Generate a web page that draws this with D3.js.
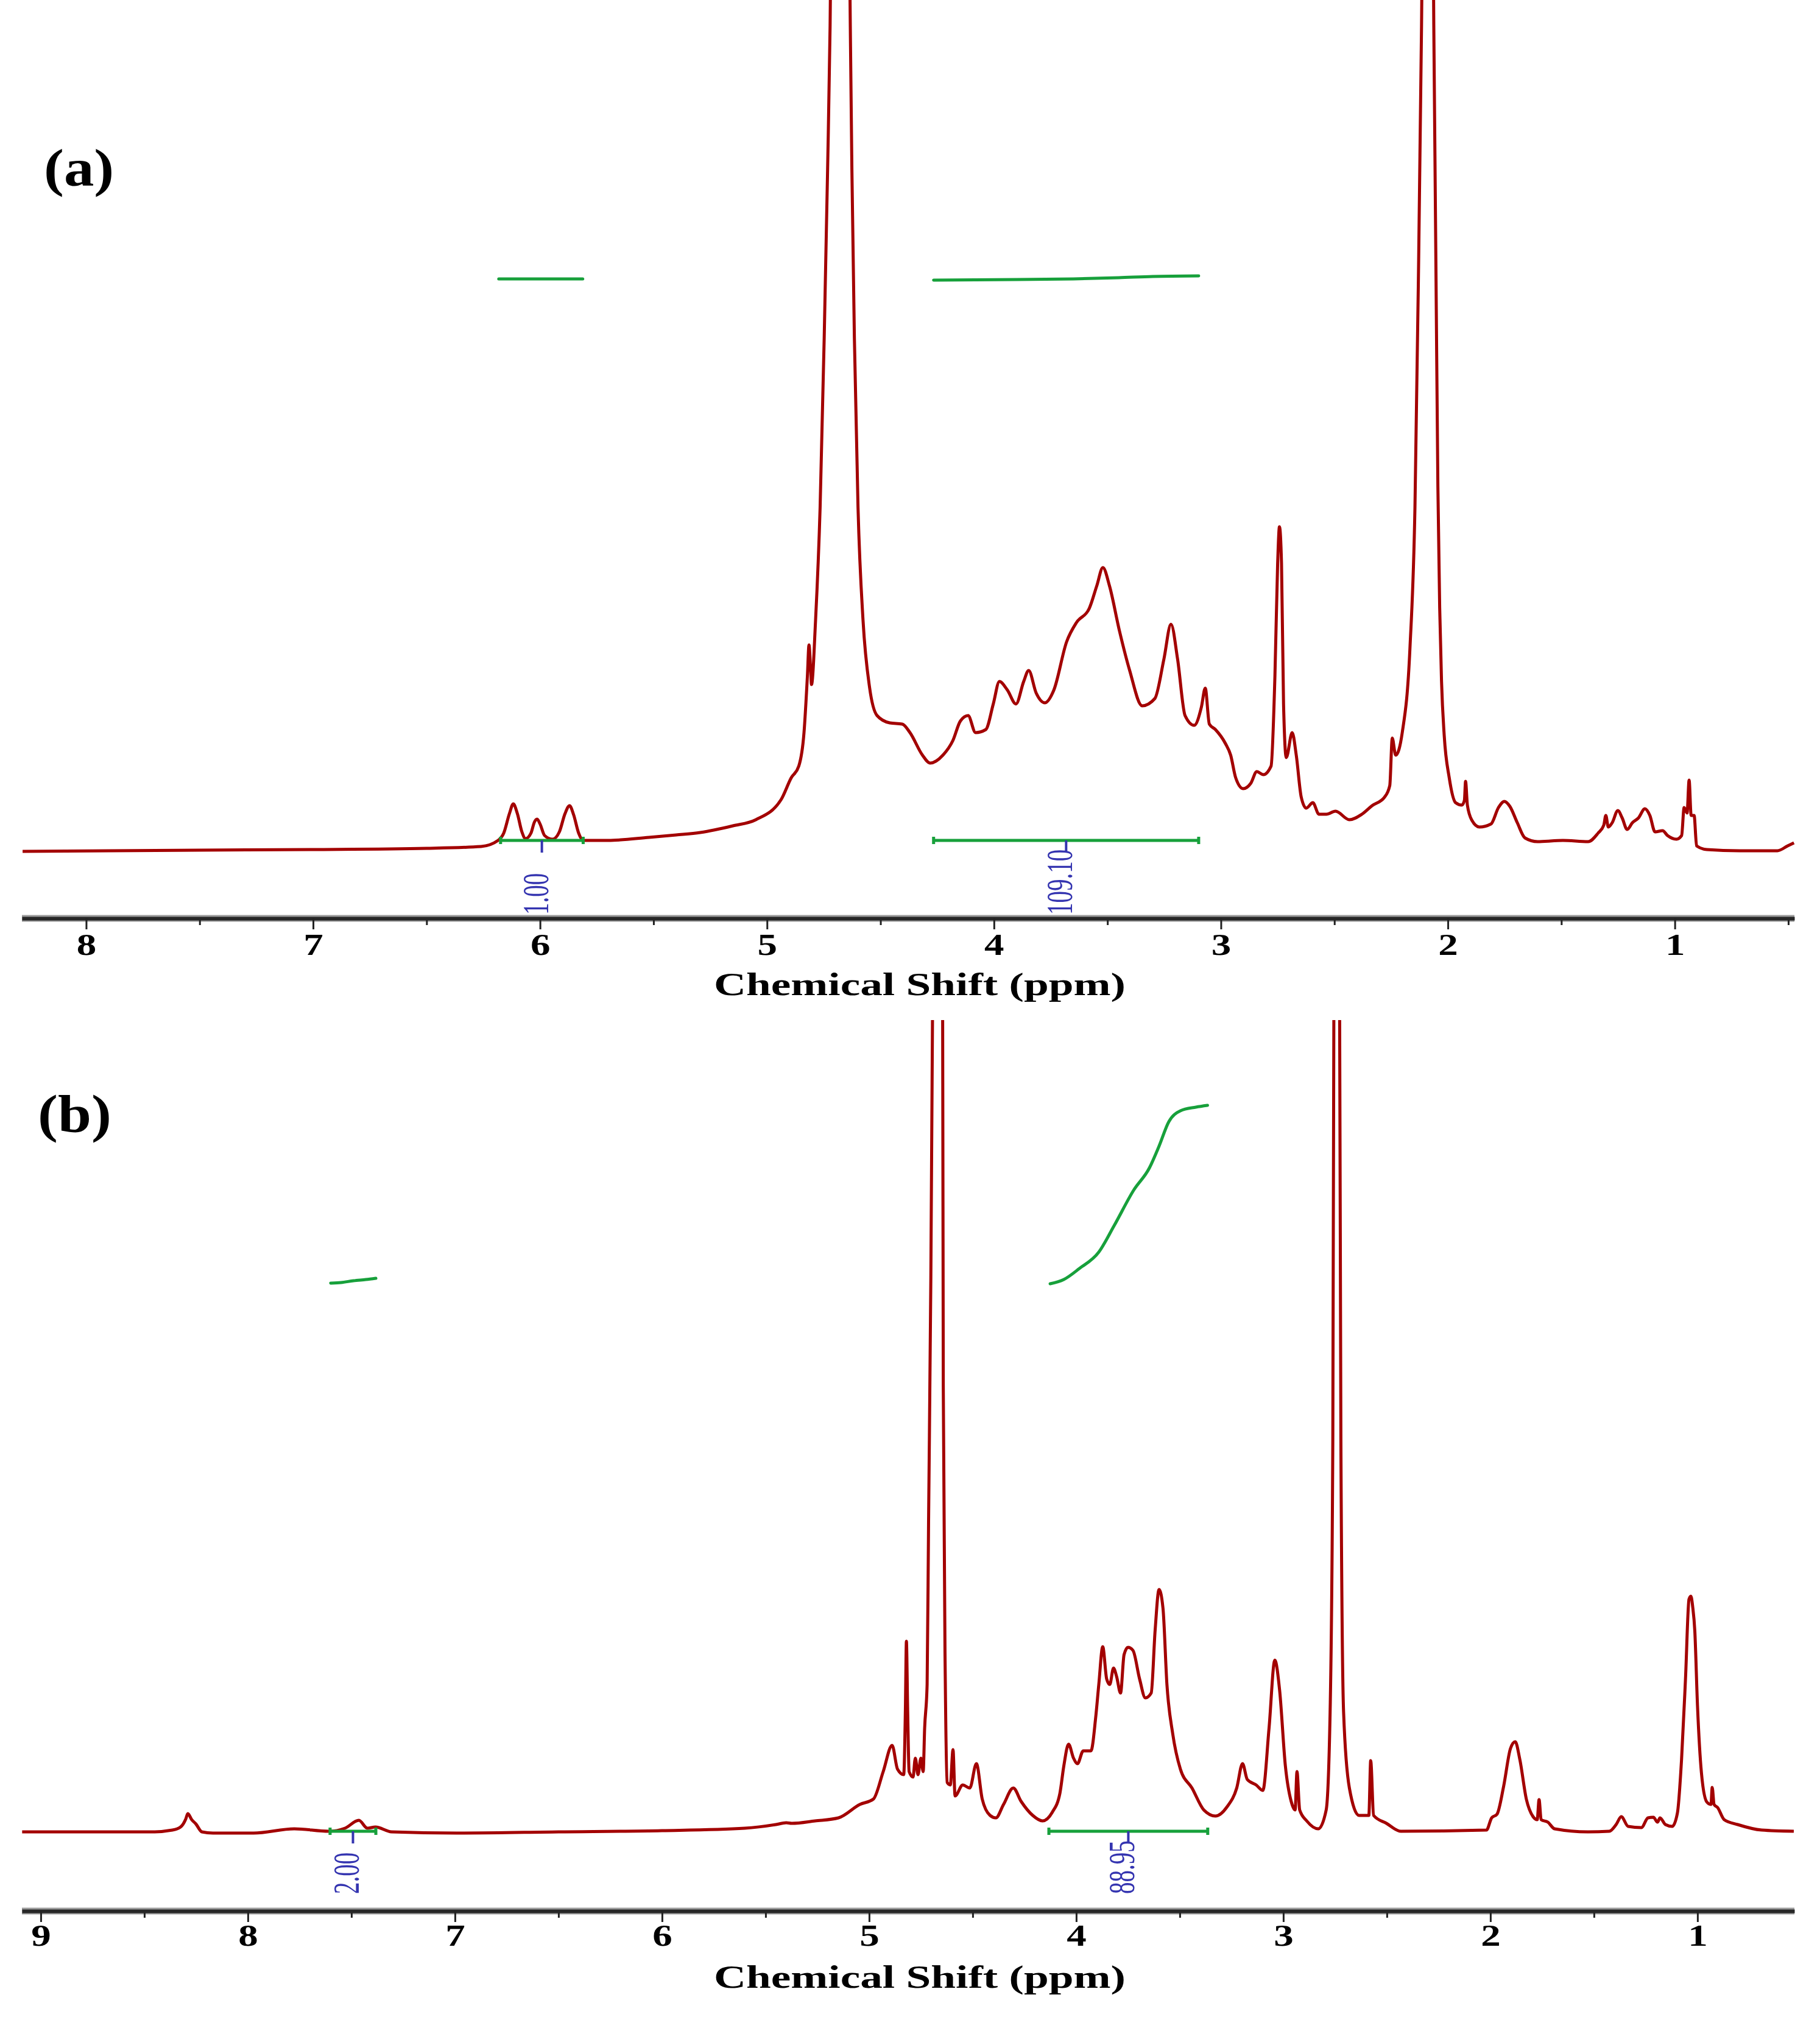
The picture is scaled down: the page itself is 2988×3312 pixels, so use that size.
<!DOCTYPE html>
<html><head><meta charset="utf-8">
<script src="https://cdn.jsdelivr.net/npm/d3@7"></script>
<style>html,body{margin:0;padding:0;background:#fff}</style>
</head><body>
<script>
// ---------- DATA (ppm, intensity) ----------
const specA = [
[8.28,0],[7.9,1],[7.5,2],[7.0,3],[6.5,5],[6.26,8],[6.185,18],
[6.16,30],[6.135,62],[6.118,78],[6.10,62],[6.08,32],[6.064,21],
[6.04,30],[6.025,48],[6.013,53],[6.0,45],[5.98,26],[5.945,20],
[5.915,32],[5.89,62],[5.87,75],[5.852,60],[5.83,30],[5.81,18],
[5.7,18],[5.52,23],[5.4,27],[5.294,31],[5.15,42],[5.049,52],[4.938,85],[4.893,121],[4.86,140],
[4.837,195],[4.822,288],[4.815,339],[4.808,300],[4.804,274],[4.786,380],[4.766,565],[4.748,843],
[4.733,1120],[4.722,1356],[4.71,1800],[4.68,2200],[4.645,1800],[4.633,1356],[4.626,1120],[4.615,843],
[4.599,565],[4.577,380],[4.548,269],[4.515,223],[4.459,211],[4.404,209],[4.37,195],[4.315,158],
[4.281,145],[4.225,158],[4.181,182],[4.148,214],[4.114,223],[4.081,195],[4.036,200],[4.003,242],
[3.976,279],[3.941,265],[3.903,242],[3.869,279],[3.847,297],[3.814,260],[3.776,244],[3.736,265],
[3.68,344],[3.636,376],[3.58,399],[3.547,436],[3.52,466],[3.491,436],[3.447,362],[3.402,297],
[3.347,239],[3.291,251],[3.251,316],[3.22,373],[3.191,316],[3.158,223],[3.118,207],[3.086,237],
[3.069,268],[3.051,209],[3.024,200],[2.98,177],[2.957,158],[2.935,121],[2.902,103],[2.868,112],
[2.842,131],[2.813,126],[2.779,140],[2.762,288],[2.75,473],[2.742,533],[2.733,473],[2.724,242],
[2.712,154],[2.686,195],[2.668,158],[2.646,89],[2.624,71],[2.595,80],[2.568,61],[2.535,61],
[2.495,66],[2.434,52],[2.379,61],[2.334,75],[2.279,89],[2.256,108],[2.245,186],[2.23,158],
[2.201,195],[2.167,334],[2.145,565],[2.13,935],[2.116,1356],[2.09,2600],[2.062,1356],[2.052,935],
[2.044,600],[2.036,400],[2.028,280],[2.016,190],[1.994,121],[1.966,80],[1.938,76],[1.927,84],
[1.922,115],[1.914,76],[1.894,51],[1.861,40],[1.81,45],[1.777,72],[1.751,82],[1.727,74],[1.694,47],
[1.66,22],[1.605,16],[1.493,18],[1.382,16],[1.338,30],[1.313,43],[1.304,59],[1.293,40],[1.276,47],
[1.251,67],[1.232,55],[1.21,36],[1.187,47],[1.16,55],[1.132,70],[1.11,59],[1.087,32],[1.054,34],
[1.032,26],[0.993,20],[0.97,26],[0.959,72],[0.946,63],[0.937,117],[0.928,59],[0.915,59],[0.904,9],
[0.859,3],[0.715,1],[0.548,1],[0.503,9],[0.475,14]
];
const specB = [
[9.09,0],[8.8,0],[8.462,0],[8.364,3],[8.325,8],[8.30,21],[8.29,30],[8.271,20],[8.251,13],[8.222,0],
[8.168,-2],[7.972,-2],[7.776,5],[7.609,1],[7.531,6],[7.464,19],[7.423,6],[7.384,8],[7.306,0],
[6.992,-2],[6.5,0],[6.0,2],[5.6,6],[5.45,12],[5.40,15],[5.374,14],[5.261,18],[5.148,23],[5.045,45],
[4.979,54],[4.932,99],[4.889,142],[4.863,103],[4.833,94],[4.825,200],[4.82,313],[4.814,200],
[4.807,99],[4.788,90],[4.777,121],[4.764,94],[4.75,121],[4.739,99],[4.732,170],[4.72,242],
[4.713,510],[4.702,911],[4.694,1336],[4.68,1700],[4.66,1700],[4.645,1336],[4.642,733],[4.632,242],
[4.623,81],[4.608,77],[4.595,135],[4.585,59],[4.548,77],[4.514,72],[4.482,112],[4.454,54],
[4.416,27],[4.388,23],[4.351,45],[4.304,72],[4.266,50],[4.21,27],[4.163,18],[4.116,32],[4.079,63],
[4.06,108],[4.037,144],[4.013,121],[3.994,112],[3.966,133],[3.929,133],[3.906,188],[3.891,242],
[3.872,304],[3.853,251],[3.838,242],[3.82,269],[3.805,255],[3.786,228],[3.769,291],[3.75,303],
[3.726,298],[3.694,251],[3.666,220],[3.638,228],[3.619,331],[3.6,398],[3.581,367],[3.562,242],
[3.534,161],[3.497,103],[3.441,72],[3.384,36],[3.328,26],[3.272,41],[3.225,72],[3.197,112],
[3.174,86],[3.131,77],[3.099,68],[3.069,170],[3.041,282],[3.018,233],[2.99,108],[2.962,50],
[2.943,36],[2.934,99],[2.921,36],[2.887,18],[2.831,5],[2.793,36],[2.774,197],[2.761,644],
[2.756,1336],[2.742,1700],[2.728,1336],[2.722,644],[2.709,197],[2.681,72],[2.634,27],[2.587,27],
[2.578,117],[2.564,27],[2.502,14],[2.432,1],[2.019,3],[1.994,23],[1.968,29],[1.936,75],[1.903,137],
[1.88,148],[1.858,119],[1.826,53],[1.794,25],[1.774,20],[1.765,53],[1.755,20],[1.723,16],[1.69,5],
[1.529,0],[1.426,1],[1.393,12],[1.368,25],[1.335,9],[1.271,7],[1.239,23],[1.213,24],[1.193,16],
[1.181,23],[1.155,12],[1.122,9],[1.097,31],[1.077,119],[1.058,251],[1.041,382],[1.032,387],
[1.023,369],[1.013,330],[1.0,207],[0.981,97],[0.955,49],[0.935,45],[0.929,73],[0.92,45],[0.903,40],
[0.871,20],[0.806,12],[0.69,3],[0.535,1]
];
// integral curves (ppm, integral trace level)
const integA1 = [[6.182,940],[5.812,940]];
const integA2 = [[4.266,938],[3.90,939],[3.65,940],[3.45,942],[3.30,944],[3.098,945]];
const integB1 = [[7.600,901],[7.55,902],[7.49,905],[7.43,907],[7.382,909]];
const integB2 = [[4.126,900],[4.06,907],[3.985,925],[3.891,952],[3.816,996],[3.722,1054],[3.647,1090],
[3.60,1126],[3.553,1166],[3.497,1184],[3.422,1190],[3.366,1193]];
// integration ranges: [from ppm, to ppm, label]
const rangesA = [[6.174,5.81,"1.00"],[4.266,3.098,"109.10"]];
const rangesB = [[7.603,7.382,"2.00"],[4.132,3.365,"88.95"]];
// tick values
const majorA = [8,7,6,5,4,3,2,1];
const minorA = [7.5,6.5,5.5,4.5,3.5,2.5,1.5,0.5];
const majorB = [9,8,7,6,5,4,3,2,1];
const minorB = [8.5,7.5,6.5,5.5,4.5,3.5,2.5,1.5];
const panelLabels = ["(a)","(b)"];
const axisTitle = "Chemical Shift (ppm)";

// ---------- DRAWING ----------
const W = 2988, H = 3312;
const svg = d3.select("body").append("svg").attr("width",W).attr("height",H);
svg.append("rect").attr("width",W).attr("height",H).attr("fill","#fff");
const defs = svg.append("defs");
const RED = "#a30000", GREEN = "#17a03b", BLUE = "#3434b0";
const SERIF = "'Liberation Serif','Times New Roman',serif";

function drawPanel(p){
  const x = d3.scaleLinear().domain(p.xDomain).range([36,2946]);
  const y = d3.scaleLinear().domain([0,p.vTop]).range([p.base,p.base-p.vTop]);
  defs.append("clipPath").attr("id","clip"+p.id).append("rect")
     .attr("x",0).attr("y",p.clipTop).attr("width",W).attr("height",p.axisY-p.clipTop);
  const g = svg.append("g");
  const line = d3.line().x(d=>x(d[0])).y(d=>y(d[1])).curve(d3.curveMonotoneX);

  // integral traces
  p.integrals.forEach(arr=>{
    g.append("path").attr("d",line(arr)).attr("fill","none").attr("stroke",GREEN)
     .attr("stroke-width",5).attr("stroke-linecap","round");
  });
  // spectrum
  g.append("path").datum(p.spec).attr("d",line).attr("clip-path",`url(#clip${p.id})`)
   .attr("fill","none").attr("stroke",RED).attr("stroke-width",5).attr("stroke-linejoin","round");

  // integration bars and labels
  p.ranges.forEach(r=>{
    const yb = y(p.barV), x1 = x(r[0]), x2 = x(r[1]), xm = x((r[0]+r[1])/2);
    g.append("line").attr("x1",x1).attr("x2",x2).attr("y1",yb).attr("y2",yb)
     .attr("stroke",GREEN).attr("stroke-width",5);
    [x1,x2].forEach(xx=>g.append("line").attr("x1",xx).attr("x2",xx).attr("y1",yb-6).attr("y2",yb+6)
     .attr("stroke",GREEN).attr("stroke-width",5));
    g.append("line").attr("x1",xm).attr("x2",xm).attr("y1",yb).attr("y2",yb+20)
     .attr("stroke",BLUE).attr("stroke-width",4);
    g.append("text").attr("transform",`translate(${xm+10},${p.labelBottom}) scale(1.55,1) rotate(-90)`)
     .attr("font-family",SERIF).attr("font-size",39).attr("fill",BLUE).text(r[2]);
  });

  // axis
  const ag = svg.append("g").attr("transform",`translate(0,${p.axisY})`);
  ag.append("line").attr("x1",36).attr("x2",2946).attr("stroke","#9a9a9a").attr("stroke-width",11);
  const minorAxis = d3.axisBottom(x).tickValues(p.minor).tickSize(11).tickSizeOuter(0).tickFormat("");
  const majorAxis = d3.axisBottom(x).tickValues(p.major).tickSize(18).tickSizeOuter(0).tickFormat(d3.format("d"));
  const mg = ag.append("g").call(minorAxis);
  mg.select(".domain").remove();
  const Mg = ag.append("g").call(majorAxis);
  Mg.select(".domain").attr("stroke","#262626").attr("stroke-width",6);
  ag.selectAll(".tick line").attr("stroke","#222").attr("stroke-width",3);
  Mg.selectAll(".tick text").attr("y",p.tickLabelY).attr("dy",0)
    .attr("transform","scale(1.3,1)")
    .attr("font-family",SERIF).attr("font-size",50).attr("font-weight","bold").attr("fill","#000");

  // axis title
  svg.append("text").attr("x",1172).attr("y",p.titleY).attr("textLength",676)
     .attr("lengthAdjust","spacingAndGlyphs").attr("font-family",SERIF).attr("font-size",52)
     .attr("font-weight","bold").attr("fill","#000").text(axisTitle);
  // panel label
  svg.append("text").attr("transform",`translate(${p.plx},${p.ply}) scale(1.15,1)`)
     .attr("font-family",SERIF).attr("font-size",86).attr("font-weight","bold").attr("fill","#000")
     .text(p.label);
}

drawPanel({id:"A", spec:specA, xDomain:[8.283,0.473], base:1398, vTop:1398, clipTop:0, axisY:1508,
  integrals:[integA1,integA2], ranges:rangesA, barV:18, labelBottom:1502,
  major:majorA, minor:minorA, tickLabelY:60, titleY:1634, label:panelLabels[0], plx:72, ply:305});
drawPanel({id:"B", spec:specB, xDomain:[9.091,0.532], base:3008, vTop:1333, clipTop:1675, axisY:3138,
  integrals:[integB1,integB2], ranges:rangesB, barV:1, labelBottom:3110,
  major:majorB, minor:minorB, tickLabelY:57, titleY:3264, label:panelLabels[1], plx:62, ply:1858});
</script>
</body></html>
